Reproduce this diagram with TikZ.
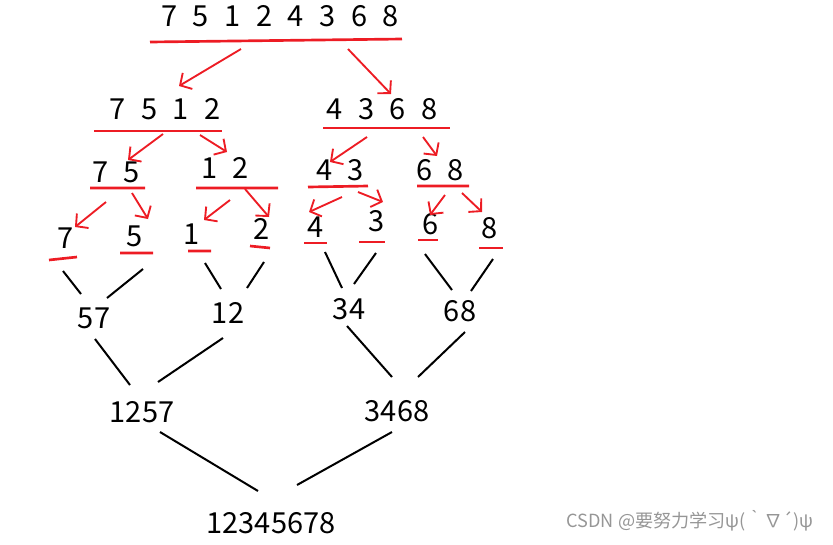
\documentclass[tikz,border=0pt]{standalone}
\usepackage{fontspec}
\setmainfont{Noto Sans CJK SC}
\usepackage{tikz}
\usetikzlibrary{arrows.meta}
\definecolor{penred}{RGB}{237,28,36}
\definecolor{markgray}{RGB}{150,150,150}
\newcommand{\digfont}{\fontsize{21.75pt}{22pt}\selectfont}
\tikzset{
  num/.style={font=\digfont,inner sep=0pt},
  row/.style={font={\digfont\spaceskip=11.7pt\relax},inner sep=0pt},
  uline/.style={penred,line width=2pt},
  split/.style={penred,line width=1.4pt,-{Straight Barb[length=6.5pt,width=14pt]}},
  merge/.style={line width=1.5pt},
}

\begin{document}
\begin{tikzpicture}[x=0.75pt,y=-0.75pt]
\useasboundingbox (0,0) rectangle (833,544);
% split rows
\node[row] (all) at (280,16) {7 5 1 2 4 3 6 8};
\node[row] (h7512) at (165,109) {7 5 1 2};
\node[row] (h4368) at (382,109) {4 3 6 8};
\node[row] (q75) at (116,172) {7 5};
\node[row] (q12) at (225,168) {1 2};
\node[row] (q43) at (340,170) {4 3};
\node[row] (q68) at (440,170) {6 8};
\node[num] (l7) at (66,238) {7};
\node[num] (l5) at (135,236) {5};
\node[num] (l1) at (192,234) {1};
\node[num] (l2) at (262,229) {2};
\node[num] (l4) at (316,227) {4};
\node[num] (l3) at (377,221) {3};
\node[num] (l6) at (431,224) {6};
\node[num] (l8) at (490,228) {8};
% merged rows
\node[num] (m57) at (94,318) {57};
\node[num] (m12) at (228,313) {12};
\node[num] (m34) at (349,309) {34};
\node[num] (m68) at (460,311) {68};
\node[num] (m1257) at (142,412) {1257};
\node[num] (m3468) at (397,411) {3468};
\node[num] (m12345678) at (271,523) {12345678};
\node[font=\fontsize{13.6pt}{14pt}\selectfont,text=markgray,inner sep=0pt] (mark) at (690,521) {CSDN @要努力学习ψ(｀∇´)ψ};

% red underlines
\draw[uline] (150,42)--(402,39);
\draw[uline] (94,131)--(222,131) (323,128)--(450,128);
\draw[uline] (90,188)--(145,188) (196,188)--(278,188) (308,187)--(368,186) (417,186)--(469,186);
\draw[uline] (49,260)--(77,257) (120,253)--(153,253) (188,251)--(211,251) (250,246)--(270,248);
\draw[uline] (304,243)--(327,243) (359,242)--(385,242) (418,240)--(438,240) (479,248)--(503,248);

% ends of the hand drawn strokes
\coordinate (s1) at (241,49); \coordinate (e1) at (179,86);
\coordinate (s2) at (348,49); \coordinate (e2) at (391,94);
\coordinate (s3) at (163,134); \coordinate (e3) at (128,160);
\coordinate (s4) at (200,135); \coordinate (e4) at (227,152);
\coordinate (s5) at (367,137); \coordinate (e5) at (330,162);
\coordinate (s6) at (423,137); \coordinate (e6) at (437,156);
\coordinate (s7) at (106,202); \coordinate (e7) at (75,227);
\coordinate (s8) at (132,193); \coordinate (e8) at (148,219);
\coordinate (s9) at (230,200); \coordinate (e9) at (204,220);
\coordinate (s10) at (245,189); \coordinate (e10) at (269,217);
\coordinate (s11) at (342,197); \coordinate (e11) at (309,212);
\coordinate (s12) at (358,192); \coordinate (e12) at (383,202);
\coordinate (s13) at (445,195); \coordinate (e13) at (430,215);
\coordinate (s14) at (462,193); \coordinate (e14) at (482,212);
\coordinate (b1) at (63,271); \coordinate (c1) at (81,294);
\coordinate (b2) at (143,269); \coordinate (c2) at (107,298);
\coordinate (b3) at (205,263); \coordinate (c3) at (221,289);
\coordinate (b4) at (264,262); \coordinate (c4) at (247,288);
\coordinate (b5) at (325,252); \coordinate (c5) at (342,288);
\coordinate (b6) at (376,253); \coordinate (c6) at (354,284);
\coordinate (b7) at (425,254); \coordinate (c7) at (452,290);
\coordinate (b8) at (493,259); \coordinate (c8) at (471,291);
\coordinate (b9) at (95,339); \coordinate (c9) at (130,385);
\coordinate (b10) at (223,338); \coordinate (c10) at (158,382);
\coordinate (b11) at (347,326); \coordinate (c11) at (392,377);
\coordinate (b12) at (465,332); \coordinate (c12) at (418,377);
\coordinate (b13) at (160,432); \coordinate (c13) at (258,491);
\coordinate (b14) at (392,432); \coordinate (c14) at (297,485);

% splitting arrows
\foreach \i in {1,...,14}
  \draw[split] (s\i)--(e\i);
% merging strokes
\foreach \i in {1,...,14}
  \draw[merge] (b\i)--(c\i);
\end{tikzpicture}
\end{document}
